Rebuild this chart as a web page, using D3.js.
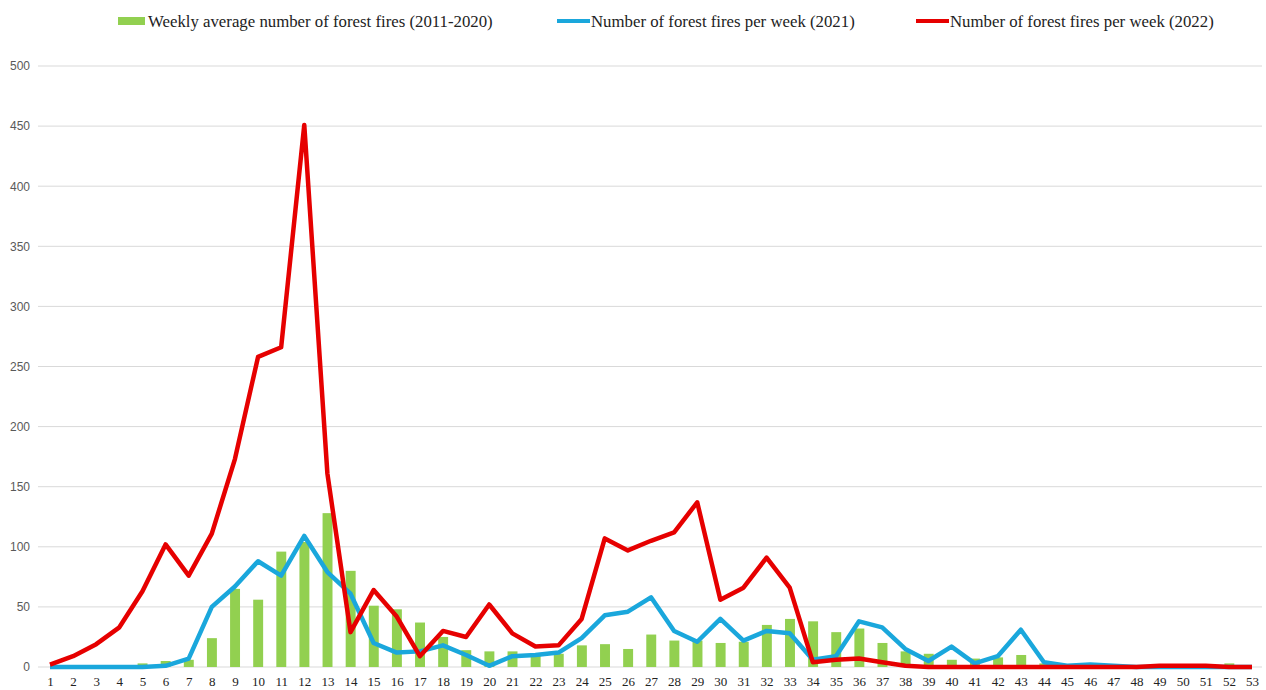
<!DOCTYPE html>
<html><head><meta charset="utf-8">
<script src="https://cdn.jsdelivr.net/npm/d3@7"></script>
<style>body{margin:0;background:#fff;}svg{display:block;}</style>
</head><body>
<svg id="chart" width="1266" height="690"></svg>
<script>
const weeks = d3.range(1, 54);
const avg2011_2020 = [0,0,0,0,3,5,6,24,65,56,96,104,128,80,51,48,37,25,14,13,13,10,11,18,19,15,27,22,22,20,21,35,40,38,29,32,20,13,11,6,7,8,10,3,1,1,1,0,1,1,1,3,0];
const fires2021 = [0,0,0,0,0,1,7,50,67,88,76,109,79,61,20,12,13,18,10,1,9,10,12,24,43,46,58,30,21,40,22,30,28,6,9,38,33,15,5,17,3,9,31,4,1,2,1,0,0,0,0,0,0];
const fires2022 = [2,9,19,33,63,102,76,111,173,258,266,451,161,29,64,42,9,30,25,52,28,17,18,40,107,97,105,112,137,56,66,91,66,4,6,7,4,1,0,0,0,0,0,0,0,0,0,0,1,1,1,0,0];
const yTicks = [0,50,100,150,200,250,300,350,400,450,500];
const legendLabels = ["Weekly average number of forest fires (2011-2020)","Number of forest fires per week (2021)","Number of forest fires per week (2022)"];
const colors = {bar:"#92d050", l2021:"#1aa7dc", l2022:"#e60000"};

const svg = d3.select("#chart");
const x = d3.scaleBand().domain(weeks).range([38.5, 1264]).paddingInner(0.57).paddingOuter(0.285);
const xc = d3.scalePoint().domain(weeks).range([50, 1252]);
const y = d3.scaleLinear().domain([0, 500]).range([667, 66]);

// gridlines
svg.append("g").selectAll("line").data(yTicks).join("line")
  .attr("x1", 38).attr("x2", 1262)
  .attr("y1", d => y(d)).attr("y2", d => y(d))
  .attr("stroke", "#d9d9d9").attr("stroke-width", 1);

// y labels
const yAxis = svg.append("g").attr("transform", "translate(30,0)")
  .call(d3.axisLeft(y).tickValues(yTicks).tickSize(0).tickPadding(0));
yAxis.select(".domain").remove();
yAxis.selectAll("text").attr("font-family", "Liberation Sans, Arial, sans-serif")
  .attr("font-size", 12).attr("fill", "#595959");

// x labels
const xAxis = svg.append("g").attr("transform", "translate(0,667)")
  .call(d3.axisBottom(xc).tickSize(0).tickPadding(10));
xAxis.select(".domain").remove();
xAxis.selectAll("text").attr("font-family", "Liberation Serif, Times New Roman, serif")
  .attr("font-size", 13).attr("fill", "#222");

// bars
svg.append("g").selectAll("rect").data(weeks).join("rect")
  .attr("x", d => x(d)).attr("width", x.bandwidth())
  .attr("y", (d, i) => y(avg2011_2020[i]))
  .attr("height", (d, i) => y(0) - y(avg2011_2020[i]))
  .attr("fill", colors.bar);

const line = d3.line().x((d, i) => xc(weeks[i])).y(d => y(d));
svg.append("path").datum(fires2021).attr("d", line).attr("fill", "none")
  .attr("stroke", colors.l2021).attr("stroke-width", 4.5).attr("stroke-linejoin", "round");
svg.append("path").datum(fires2022).attr("d", line).attr("fill", "none")
  .attr("stroke", colors.l2022).attr("stroke-width", 4.5).attr("stroke-linejoin", "round");

// legend
const lg = svg.append("g").attr("font-family", "Liberation Serif, Times New Roman, serif").attr("font-size", 16.8).attr("fill", "#222");
lg.append("rect").attr("x", 118).attr("y", 17).attr("width", 27).attr("height", 8).attr("fill", colors.bar);
lg.append("text").attr("x", 148).attr("y", 27).text(legendLabels[0]);
lg.append("line").attr("x1", 557).attr("x2", 590).attr("y1", 21).attr("y2", 21).attr("stroke", colors.l2021).attr("stroke-width", 4);
lg.append("text").attr("x", 591).attr("y", 27).text(legendLabels[1]);
lg.append("line").attr("x1", 916).attr("x2", 949).attr("y1", 21).attr("y2", 21).attr("stroke", colors.l2022).attr("stroke-width", 4);
lg.append("text").attr("x", 950).attr("y", 27).text(legendLabels[2]);
</script>
</body></html>
